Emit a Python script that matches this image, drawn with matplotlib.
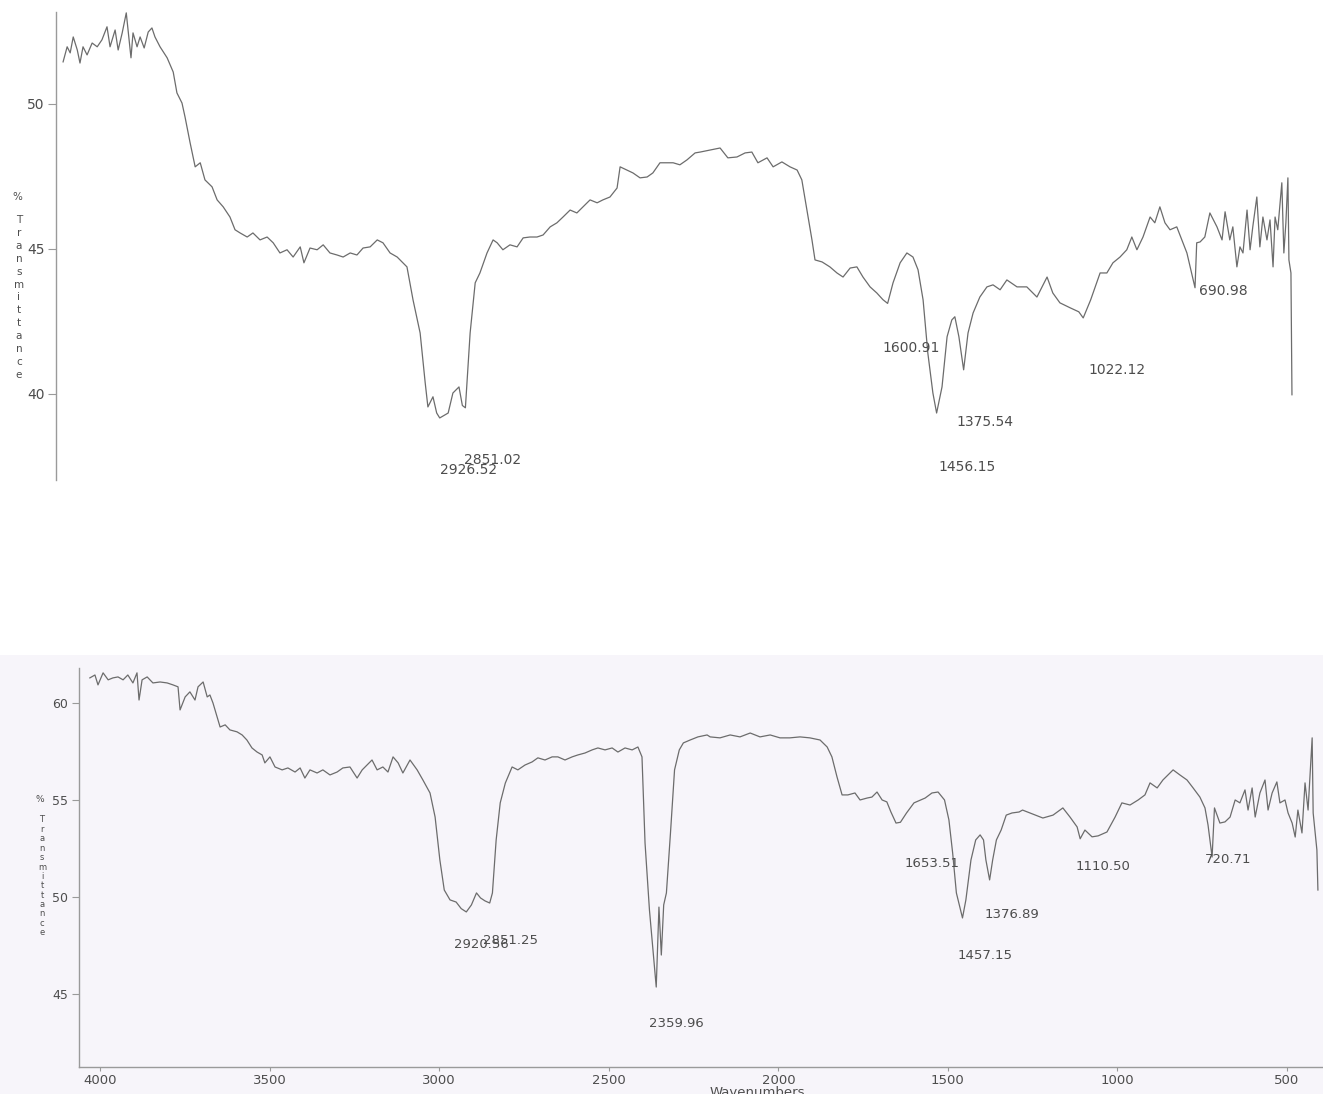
import matplotlib
matplotlib.use("Agg")
import matplotlib.pyplot as plt
from matplotlib.patches import Rectangle

# ---------------- Upper spectrum ----------------
wn_top = [4042, 4030, 4021, 4012, 4000, 3992, 3983, 3971, 3956, 3941, 3927, 3912, 3903, 3888,
          3879, 3867, 3855, 3841, 3835, 3823, 3814, 3802, 3790, 3779, 3770, 3755, 3734, 3716,
          3705, 3690, 3681, 3666, 3651, 3636, 3622, 3601, 3586, 3568, 3548, 3533, 3518, 3497,
          3480, 3459, 3438, 3420, 3400, 3379, 3361, 3340, 3329, 3311, 3290, 3272, 3252, 3231,
          3213, 3192, 3172, 3154, 3133, 3112, 3095, 3074, 3053, 3036, 3024, 3006, 2985, 2970,
          2962, 2947, 2936, 2927, 2902, 2888, 2870, 2860, 2851, 2837, 2822, 2808, 2787, 2769,
          2757, 2740, 2719, 2698, 2680, 2660, 2639, 2621, 2600, 2580, 2562, 2541, 2521, 2503,
          2482, 2461, 2444, 2423, 2402, 2393, 2373, 2355, 2334, 2313, 2296, 2275, 2254, 2236,
          2216, 2195, 2171, 2156, 2127, 2097, 2074, 2047, 2023, 2003, 1985, 1958, 1940, 1914,
          1890, 1869, 1855, 1840, 1825, 1816, 1795, 1772, 1751, 1733, 1712, 1692, 1674, 1653,
          1633, 1615, 1601, 1585, 1564, 1544, 1526, 1511, 1496, 1482, 1467, 1456, 1440, 1425,
          1411, 1402, 1390, 1376, 1363, 1348, 1328, 1307, 1289, 1268, 1248, 1218, 1189, 1159,
          1129, 1112, 1091, 1061, 1035, 1022, 1000, 972, 952, 934, 913, 893, 878, 863, 845,
          824, 810, 795, 780, 765, 745, 730, 715, 691, 686, 676, 662, 647, 626, 611, 602, 588,
          579, 567, 558, 549, 537, 528, 520, 508, 499, 490, 478, 469, 460, 454, 446, 434, 428,
          422, 416, 413, 407, 404]
t_top = [51.45, 51.97, 51.76, 52.31, 51.86, 51.41, 51.97, 51.69, 52.10, 51.97, 52.21, 52.66,
         51.97, 52.55, 51.86, 52.45, 53.14, 51.59, 52.45, 51.97, 52.31, 51.93, 52.48, 52.62,
         52.31, 51.97, 51.59, 51.10, 50.38, 50.03, 49.55, 48.66, 47.83, 47.97, 47.38, 47.14,
         46.69, 46.45, 46.10, 45.66, 45.55, 45.41, 45.55, 45.31, 45.41, 45.21, 44.86, 44.97,
         44.72, 45.07, 44.52, 45.03, 44.97, 45.14, 44.86, 44.79, 44.72, 44.86, 44.79, 45.03,
         45.07, 45.31, 45.21, 44.86, 44.72, 44.52, 44.38, 43.24, 42.10, 40.38, 39.55, 39.90,
         39.34, 39.17, 39.34, 40.03, 40.24, 39.60, 39.52, 42.10, 43.83, 44.17, 44.86, 45.31,
         45.21, 44.97, 45.14, 45.07, 45.38, 45.41, 45.41, 45.48, 45.76, 45.90, 46.10, 46.34,
         46.24, 46.45, 46.69, 46.59, 46.69, 46.79, 47.10, 47.83, 47.72, 47.62, 47.45, 47.48,
         47.62, 47.97, 47.97, 47.97, 47.90, 48.07, 48.31, 48.34, 48.41, 48.48, 48.14, 48.17,
         48.31, 48.34, 47.97, 48.14, 47.83, 48.00, 47.83, 47.72, 47.38, 46.34, 45.31, 44.62,
         44.55, 44.38, 44.17, 44.03, 44.34, 44.38, 44.03, 43.69, 43.48, 43.25, 43.12, 43.83,
         44.52, 44.86, 44.72, 44.28, 43.24, 41.41, 40.03, 39.34, 40.24, 41.97, 42.55, 42.66,
         41.97, 40.83, 42.10, 42.79, 43.34, 43.69, 43.76, 43.59, 43.93, 43.69, 43.69, 43.34,
         44.03, 43.48, 43.14, 42.97, 42.83, 42.62, 43.24, 44.17, 44.17, 44.52, 44.72, 44.97,
         45.41, 44.97, 45.41, 46.10, 45.90, 46.45, 45.90, 45.66, 45.76, 45.31, 44.86, 43.66,
         45.21, 45.24, 45.41, 46.24, 45.76, 45.31, 46.28, 45.31, 45.76, 44.38, 45.07, 44.86,
         46.34, 44.97, 45.76, 46.79, 45.07, 46.10, 45.31, 46.00, 44.38, 46.10, 45.66, 47.28,
         44.86, 45.90, 47.45, 44.62, 44.17, 39.97]
labels_top = ["2851.02", "2926.52", "1600.91", "1375.54", "1456.15", "1022.12", "690.98"]
label_wn_top = [2772, 2843, 1532, 1313, 1366, 922, 608]
label_t_top = [37.72, 37.38, 41.59, 39.03, 37.48, 40.83, 43.55]
yticks_top = [40, 45, 50]

# ---------------- Lower spectrum ----------------
wn_bot = [4030, 4015, 4006, 3991, 3976, 3962, 3947, 3932, 3918, 3903, 3891, 3885, 3876, 3861,
          3844, 3823, 3802, 3785, 3770, 3764, 3749, 3735, 3720, 3711, 3696, 3684, 3676, 3667,
          3655, 3646, 3631, 3617, 3596, 3581, 3567, 3552, 3537, 3522, 3514, 3499, 3484, 3463,
          3446, 3425, 3410, 3396, 3381, 3360, 3343, 3322, 3301, 3284, 3263, 3242, 3227, 3213,
          3198, 3183, 3166, 3151, 3136, 3121, 3107, 3086, 3065, 3048, 3027, 3012, 2998, 2985,
          2968, 2950, 2935, 2920, 2905, 2890, 2878, 2865, 2851, 2843, 2832, 2820, 2805, 2795,
          2785, 2768, 2747, 2726, 2709, 2688, 2667, 2650, 2629, 2608, 2591, 2570, 2549, 2532,
          2511, 2490, 2473, 2452, 2431, 2414, 2402, 2393, 2380, 2360, 2352, 2345, 2338, 2330,
          2318, 2306, 2292, 2280, 2260, 2237, 2210, 2201, 2172, 2142, 2113, 2083, 2054, 2024,
          1995, 1966, 1936, 1907, 1877, 1856, 1842, 1827, 1812, 1795, 1774, 1759, 1738, 1724,
          1709, 1694, 1680, 1668, 1660, 1653, 1640, 1622, 1600, 1567, 1547, 1529, 1510, 1497,
          1486, 1475, 1457, 1447, 1432, 1418, 1405, 1395, 1388, 1377, 1368, 1357, 1343, 1328,
          1311, 1290, 1280, 1258, 1220, 1190, 1161, 1140, 1119, 1110, 1096, 1075, 1057, 1031,
          1007, 987, 963, 939, 919, 904, 883, 866, 851, 836, 816, 795, 777, 757, 742, 733, 721,
          714, 698, 683, 668, 653, 639, 624, 615, 603, 594, 580, 565, 556, 544, 530, 521, 506,
          497, 485, 476, 468, 456, 447, 438, 426, 423, 412, 409]
t_bot = [61.29, 61.44, 60.93, 61.55, 61.19, 61.29, 61.34, 61.19, 61.44, 61.03, 61.55, 60.15,
         61.19, 61.34, 61.03, 61.08, 61.03, 60.93, 60.83, 59.64, 60.31, 60.57, 60.15, 60.83,
         61.08, 60.31, 60.41, 60.00, 59.28, 58.76, 58.87, 58.61, 58.51, 58.35, 58.09, 57.68,
         57.47, 57.32, 56.91, 57.22, 56.70, 56.55, 56.65, 56.44, 56.65, 56.13, 56.55, 56.39,
         56.55, 56.29, 56.44, 56.65, 56.70, 56.13, 56.55, 56.80, 57.06, 56.55, 56.70, 56.44,
         57.22, 56.91, 56.39, 57.06, 56.55, 56.03, 55.36, 54.12, 51.91, 50.36, 49.85, 49.74,
         49.40, 49.23, 49.59, 50.21, 49.95, 49.80, 49.69, 50.21, 52.94, 54.85, 55.87, 56.29,
         56.70, 56.55, 56.80, 56.96, 57.17, 57.06, 57.22, 57.22, 57.06, 57.22, 57.32, 57.42,
         57.58, 57.68, 57.58, 57.68, 57.47, 57.68, 57.58, 57.73, 57.22, 52.78, 49.33, 45.36,
         49.48, 47.01, 49.59, 50.21, 53.30, 56.55, 57.58, 57.94, 58.09, 58.25, 58.35, 58.25,
         58.20, 58.35, 58.25, 58.45, 58.25, 58.35, 58.20, 58.20, 58.25, 58.20, 58.09, 57.73,
         57.22, 56.19, 55.26, 55.26, 55.36, 55.00, 55.10, 55.15, 55.41, 55.00, 54.90, 54.38,
         54.07, 53.81, 53.85, 54.33, 54.85, 55.10, 55.36, 55.41, 55.00, 53.97, 52.27, 50.21,
         48.92, 49.85, 51.91, 52.94, 53.20, 52.94, 51.91, 50.88, 51.91, 52.94, 53.45, 54.22,
         54.33, 54.38, 54.48, 54.33, 54.07, 54.22, 54.59, 54.12, 53.61, 53.00, 53.45, 53.10,
         53.15, 53.35, 54.12, 54.85, 54.74, 55.00, 55.26, 55.88, 55.62, 56.03, 56.29, 56.55,
         56.29, 56.03, 55.62, 55.15, 54.59, 53.71, 52.06, 54.59, 53.81, 53.87, 54.12, 55.00,
         54.85, 55.52, 54.48, 55.62, 54.12, 55.36, 56.03, 54.48, 55.36, 55.93, 54.85, 55.00,
         54.33, 53.81, 53.09, 54.48, 53.30, 55.88, 54.48, 58.20, 54.33, 52.42, 50.36]
labels_bot = ["2920.56", "2851.25", "2359.96", "1653.51", "1376.89", "1457.15", "1110.50", "720.71"]
label_wn_bot = [2877, 2791, 2302, 1547, 1311, 1391, 1043, 674]
label_t_bot = [47.53, 47.78, 43.50, 51.75, 49.12, 46.96, 51.55, 51.91]
yticks_bot = [45, 50, 55, 60]
xticks_bot = [4000, 3500, 3000, 2500, 2000, 1500, 1000, 500]

# ---------------- figure layout (pixel based) ----------------
W, H = 1323, 1094
fig = plt.figure(figsize=(W / 100, H / 100), dpi=100)
fig.patch.set_facecolor("white")

# faint paper tint of the lower sheet, kept behind the axes
fig.patches.append(Rectangle((0, 0), 1, 1 - 655 / H, transform=fig.transFigure,
                             facecolor="#f7f5fa", edgecolor="none", zorder=-10))

LINE = "#6c6c6c"
TXT = "#4d4d4d"
AXC = "#9a9a9a"
FONT = "DejaVu Sans"

ax1 = fig.add_axes([56 / W, 1 - 480 / H, (1295 - 56) / W, (480 - 12) / H])
ax2 = fig.add_axes([79 / W, 1 - 1067 / H, (1323 - 79) / W, (1067 - 668) / H])

for ax in (ax1, ax2):
    ax.set_facecolor("none")
    ax.set_zorder(2)
    ax.spines["top"].set_visible(False)
    ax.spines["right"].set_visible(False)
    ax.spines["left"].set_color(AXC)
    ax.spines["bottom"].set_color(AXC)
    ax.spines["left"].set_linewidth(1.0)
    ax.spines["bottom"].set_linewidth(1.0)

# upper panel
ax1.plot(wn_top, t_top, color=LINE, lw=0.9)
ax1.set_xlim(4063, 395)
ax1.set_ylim(37.03, 53.17)
ax1.spines["bottom"].set_visible(False)
ax1.set_xticks([])
ax1.set_yticks(yticks_top)
ax1.set_yticklabels([str(v) for v in yticks_top], fontfamily=FONT)
ax1.tick_params(axis="y", direction="out", length=6, width=0.8, color=AXC,
                labelcolor=TXT, labelsize=10, pad=2)
for s, x, y in zip(labels_top, label_wn_top, label_t_top):
    ax1.text(x, y, s, ha="center", va="center", fontsize=10, color=TXT, fontfamily=FONT)

# lower panel
ax2.plot(wn_bot, t_bot, color=LINE, lw=0.9)
ax2.set_xlim(4062, 394)
ax2.set_ylim(41.24, 61.80)
ax2.set_yticks(yticks_bot)
ax2.set_yticklabels([str(v) for v in yticks_bot], fontfamily=FONT)
ax2.set_xticks(xticks_bot)
ax2.set_xticklabels([str(v) for v in xticks_bot], fontfamily=FONT)
ax2.tick_params(axis="y", direction="out", length=5, width=0.8, color=AXC,
                labelcolor=TXT, labelsize=9, pad=3)
ax2.tick_params(axis="x", direction="out", length=3, width=0.8, color=AXC,
                labelcolor=TXT, labelsize=9.5, pad=2)
for s, x, y in zip(labels_bot, label_wn_bot, label_t_bot):
    ax2.text(x, y, s, ha="center", va="center", fontsize=9.5, color=TXT, fontfamily=FONT)

fig.text(757 / W, 1 - 1093 / H, "Wavenumbers", ha="center", va="center",
         fontsize=9.5, color=TXT, fontfamily=FONT)

# stacked axis titles, one letter per line
word = "Transmittance"
fig.text(17 / W, 1 - 197 / H, "%", ha="center", va="center", fontsize=7.5,
         color=TXT, fontfamily=FONT)
for i, ch in enumerate(word):
    fig.text(19 / W, 1 - (220 + 12.9 * i) / H, ch, ha="center", va="center",
             fontsize=7.5, color=TXT, fontfamily=FONT)

fig.text(40 / W, 1 - 800 / H, "%", ha="center", va="center", fontsize=6.5,
         color=TXT, fontfamily=FONT)
for i, ch in enumerate(word):
    fig.text(42 / W, 1 - (820 + 9.4 * i) / H, ch, ha="center", va="center",
             fontsize=6, color=TXT, fontfamily=FONT)

fig.savefig("out.png", dpi=100, facecolor=fig.get_facecolor())
